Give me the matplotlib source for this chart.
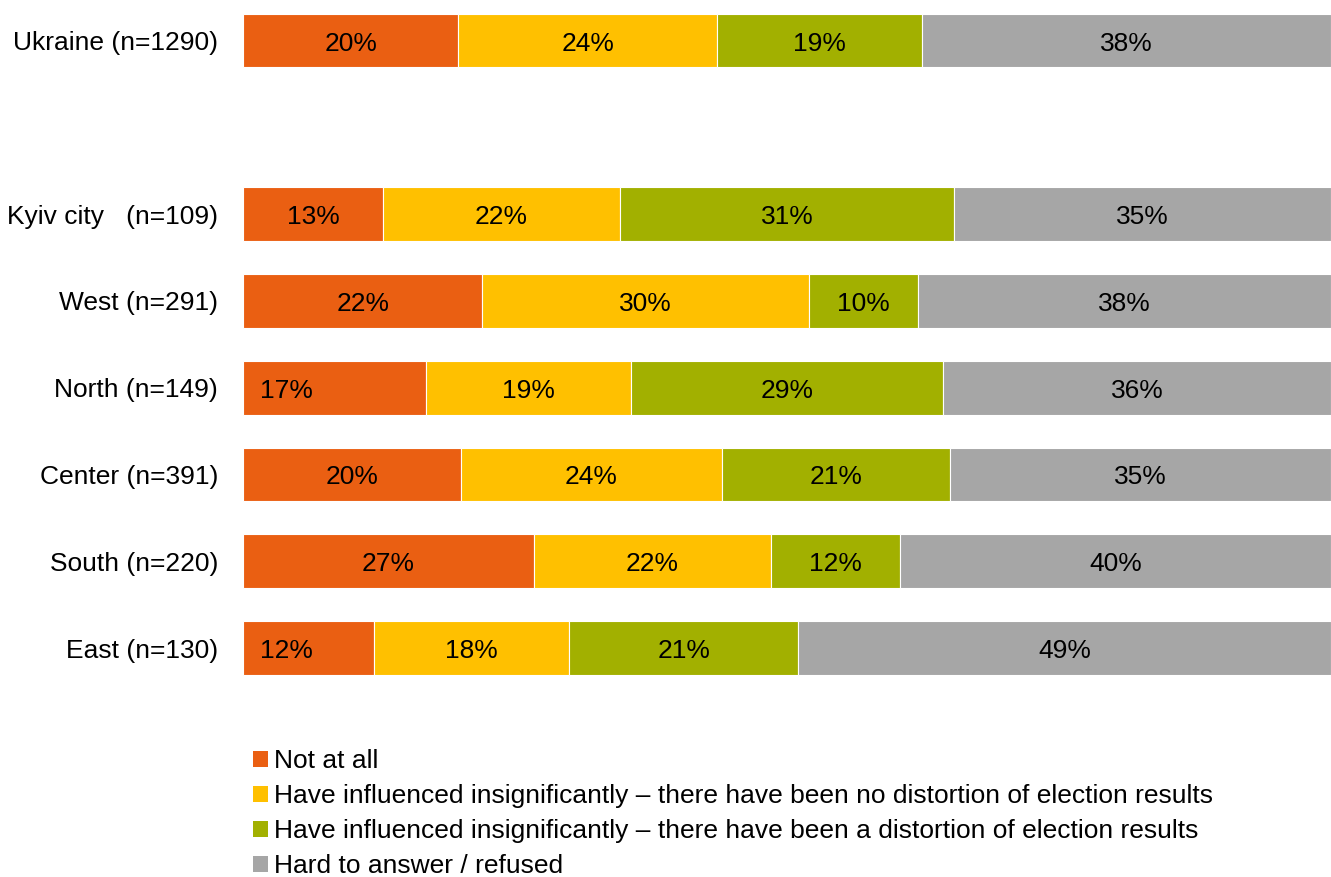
import numpy as np
import matplotlib.pyplot as plt
from matplotlib.patches import Patch

plt.rcParams['font.family'] = ['Liberation Sans', 'DejaVu Sans']

# survey rows (Ukraine total, then regions)
regions = ['Ukraine (n=1290)', 'Kyiv city   (n=109)', 'West (n=291)', 'North (n=149)',
           'Center (n=391)', 'South (n=220)', 'East (n=130)']
row_pos = [0, 2, 3, 4, 5, 6, 7]

not_at_all = [20, 13, 22, 17, 20, 27, 12]
no_distortion = [24, 22, 30, 19, 24, 22, 18]
distortion = [19, 31, 10, 29, 21, 12, 21]
hard_to_answer = [38, 35, 38, 36, 35, 40, 49]

answers = ['Not at all',
           'Have influenced insignificantly \u2013 there have been no distortion of election results',
           'Have influenced insignificantly \u2013 there have been a distortion of election results',
           'Hard to answer / refused']
colors = ['#EA5F12', '#FFC000', '#A2B000', '#A6A6A6']

# labels sitting near the left edge of their segment instead of the middle
left_labels = {(3, 0), (6, 0)}

vals = np.array([not_at_all, no_distortion, distortion, hard_to_answer], dtype=float).T
shares = vals / vals.sum(axis=1, keepdims=True) * 100

fs = 19
fig = plt.figure(figsize=(13.31, 8.77), dpi=100)
ax = fig.add_axes([243 / 1331, 177 / 877, 1088 / 1331, 700 / 877])

left = np.zeros(len(regions))
for j in range(4):
    ax.barh(row_pos, shares[:, j], left=left, height=0.62, color=colors[j],
            edgecolor='white', linewidth=0.8)
    for i in range(len(regions)):
        if (i, j) in left_labels:
            x, ha = left[i] + 1.6, 'left'
        else:
            x, ha = left[i] + shares[i, j] / 2, 'center'
        ax.text(x, row_pos[i] + 0.035, '%d%%' % vals[i, j], ha=ha, va='center',
                fontsize=fs, color='black')
    left += shares[:, j]

ax.set_xlim(0, 100)
ax.set_ylim(7.599, -0.467)
ax.set_yticks(row_pos)
ax.set_yticklabels(regions, fontsize=fs)
ax.tick_params(axis='y', length=0, pad=18)
ax.set_xticks([])
for s in ax.spines.values():
    s.set_visible(False)

handles = [Patch(facecolor=c, edgecolor='none') for c in colors]
fig.legend(handles, answers, loc='upper left', bbox_to_anchor=(253 / 1331, 1 - 749 / 877),
           frameon=False, fontsize=fs, handlelength=0.55, handleheight=0.55,
           handletextpad=0.25, labelspacing=0.42, borderpad=0, borderaxespad=0)

fig.savefig('out.png', dpi=100)
